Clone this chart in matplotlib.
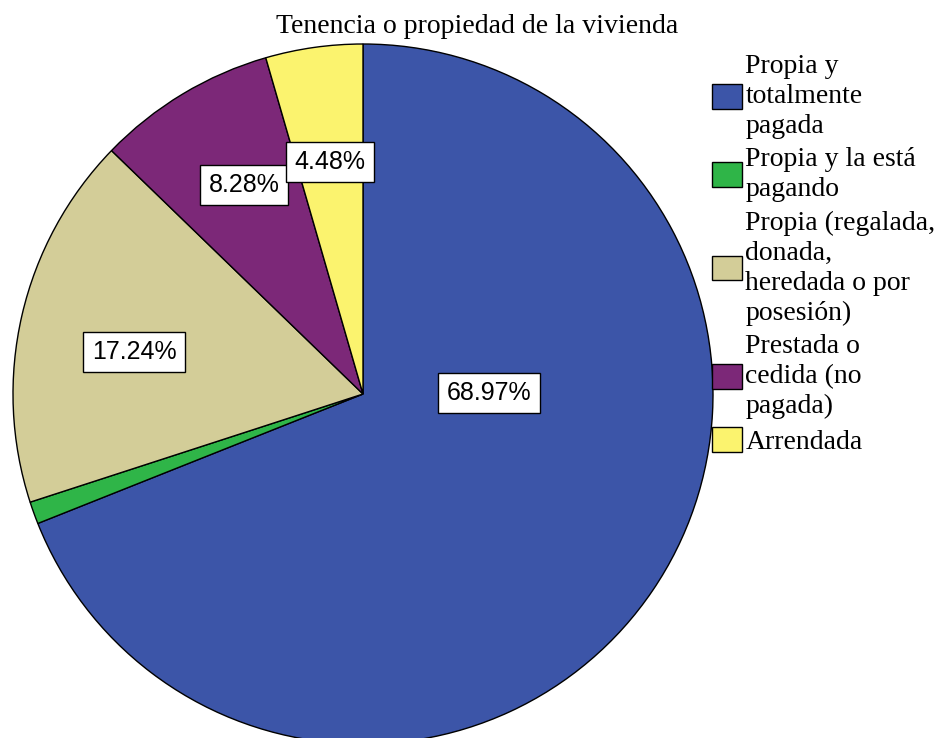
import matplotlib
matplotlib.use("Agg")
import matplotlib.pyplot as plt
from matplotlib.patches import Patch

plt.rcParams['font.family'] = ['Liberation Serif', 'DejaVu Serif']

title = "Tenencia o propiedad de la vivienda"
categories = ["Propia y\ntotalmente\npagada",
              "Propia y la está\npagando",
              "Propia (regalada,\ndonada,\nheredada o por\nposesión)",
              "Prestada o\ncedida (no\npagada)",
              "Arrendada"]
values = [68.97, 1.03, 17.24, 8.28, 4.48]
colors = ["#3c55a8", "#2fb548", "#d3cd98", "#7c2878", "#fbf36e"]
label_text = ["68.97%", None, "17.24%", "8.28%", "4.48%"]

fig = plt.figure(figsize=(9.45, 7.38), dpi=100)
cx, cy, r = 363, 394, 350
W, H = 945, 738
ax = fig.add_axes([(cx - r) / W, (H - cy - r) / H, 2 * r / W, 2 * r / H])
wedges, _ = ax.pie(values, colors=colors, startangle=90, counterclock=False,
                   wedgeprops=dict(edgecolor="black", linewidth=1.0))
ax.set_xlim(-1, 1)
ax.set_ylim(-1, 1)
ax.set_aspect("auto")
ax.axis("off")

# label box centres in pixels of the reference image
label_px = [(489, 393), None, (134, 352), (244, 185), (330, 162)]
for t, p in zip(label_text, label_px):
    if t is None:
        continue
    ax.text((p[0] - cx) / r, (cy - p[1]) / r, t, ha="center", va="center", fontsize=18,
            family=["Liberation Sans", "DejaVu Sans"],
            bbox=dict(boxstyle="square,pad=0.33", facecolor="white", edgecolor="black", linewidth=1.0))

fig.text(477 / W, 1 - 33 / H, title, ha="center", va="baseline", fontsize=20)

handles = [Patch(facecolor=c, edgecolor="black", linewidth=1.0) for c in colors]
leg = fig.legend(handles, categories, loc="upper left", bbox_to_anchor=(712 / W, 1 - 54 / H),
                 frameon=False, fontsize=20, handlelength=1.08, handleheight=1.0,
                 handletextpad=0.12, labelspacing=0.3, borderpad=0, borderaxespad=0)
for t in leg.get_texts():
    t.set_linespacing(1.26)

fig.savefig("out.png", dpi=100)
